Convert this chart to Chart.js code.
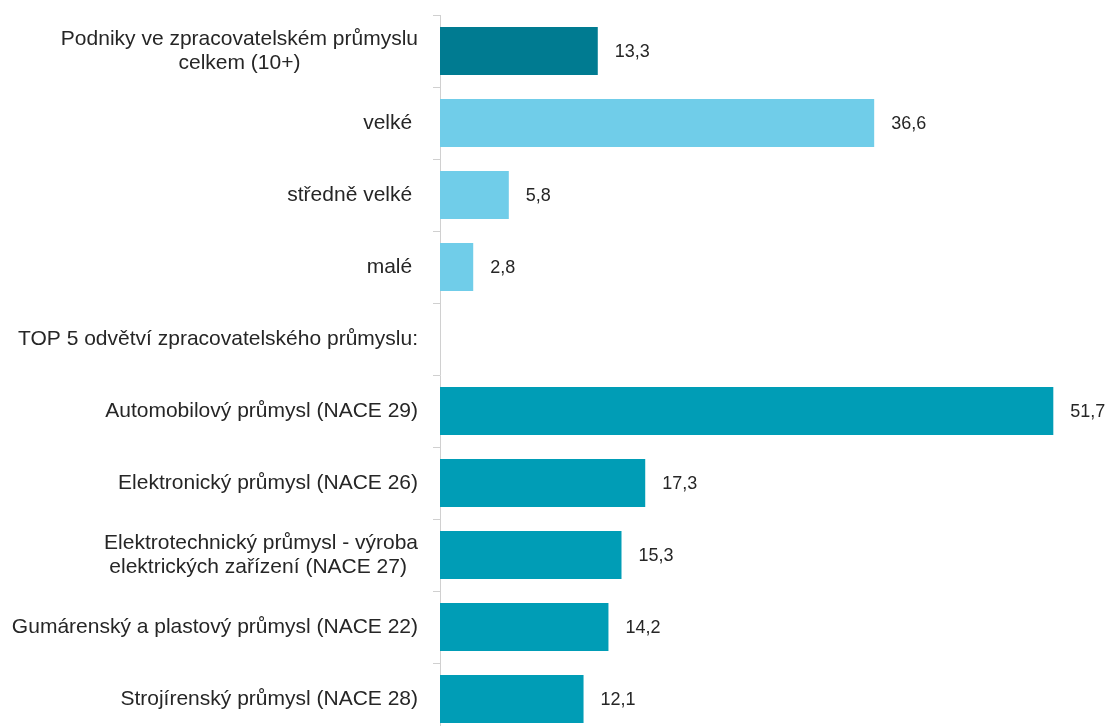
<!DOCTYPE html>
<html>
<head>
<meta charset="utf-8">
<script src="https://cdn.jsdelivr.net/npm/chart.js@4/dist/chart.umd.min.js"></script>
<style>
  html, body { margin: 0; padding: 0; background: #fff; overflow: hidden; }
  #wrap { width: 1115px; height: 740px; position: relative; }
</style>
</head>
<body>
<div id="wrap"><canvas id="chart"></canvas></div>
<script>
// categories (multi-line labels as arrays)
const categories = [
  ["Podniky ve zpracovatelském průmyslu", "celkem (10+)"],
  "velké ",
  "středně velké ",
  "malé ",
  "TOP 5 odvětví zpracovatelského průmyslu:",
  "Automobilový průmysl (NACE 29)",
  "Elektronický průmysl (NACE 26)",
  ["Elektrotechnický průmysl - výroba", "elektrických zařízení (NACE 27) "],
  "Gumárenský a plastový průmysl (NACE 22)",
  "Strojírenský průmysl (NACE 28)"
];
const values = [13.3, 36.6, 5.8, 2.8, null, 51.7, 17.3, 15.3, 14.2, 12.1];

// bar colours per row
const totalColor = "#007b91";
const sizeColor = "#70cde9";
const branchColor = "#009db6";
const barColors = [totalColor, sizeColor, sizeColor, sizeColor, branchColor,
  branchColor, branchColor, branchColor, branchColor, branchColor];

const LABEL_FONT = "21px 'Liberation Sans', Arial, sans-serif";
const VALUE_FONT = "18px 'Liberation Sans', Arial, sans-serif";
const TEXT = "#262626";

// draw y labels: block right-aligned, lines centered within block
const yLabels = {
  id: "yLabels",
  afterDraw(chart) {
    const ctx = chart.ctx;
    const y = chart.scales.y;
    const right = y.right - 22;
    ctx.save();
    ctx.font = LABEL_FONT;
    ctx.fillStyle = TEXT;
    ctx.textBaseline = "middle";
    ctx.textAlign = "center";
    categories.forEach((lab, i) => {
      const lines = Array.isArray(lab) ? lab : [lab];
      const w = Math.max(...lines.map(l => ctx.measureText(l).width));
      const cx = right - w / 2;
      const lh = 24;
      const cy = y.getPixelForTick(i);
      lines.forEach((l, k) => {
        ctx.fillText(l, cx, cy + (k - (lines.length - 1) / 2) * lh);
      });
    });
    ctx.restore();
  }
};

// value labels to the right of bars
const valueLabels = {
  id: "valueLabels",
  afterDatasetsDraw(chart) {
    const ctx = chart.ctx;
    const meta = chart.getDatasetMeta(0);
    ctx.save();
    ctx.font = VALUE_FONT;
    ctx.fillStyle = TEXT;
    ctx.textBaseline = "middle";
    ctx.textAlign = "left";
    meta.data.forEach((bar, i) => {
      if (values[i] == null) return;
      ctx.fillText(values[i].toFixed(1).replace(".", ","), bar.x + 17, bar.y + 1);
    });
    ctx.restore();
  }
};

new Chart(document.getElementById("chart"), {
  type: "bar",
  data: {
    labels: categories,
    datasets: [{
      data: values,
      backgroundColor: barColors,
      borderWidth: 0,
      barPercentage: 0.667,
      categoryPercentage: 1
    }]
  },
  options: {
    indexAxis: "y",
    responsive: true,
    maintainAspectRatio: false,
    animation: false,
    layout: { padding: { top: 15, bottom: 5, left: 0, right: 0 } },
    plugins: { legend: { display: false }, tooltip: { enabled: false } },
    scales: {
      x: { display: false, min: 0, max: 56.9 },
      y: {
        offset: true,
        ticks: { display: false },
        grid: { offset: true, drawOnChartArea: false, drawTicks: true, tickLength: 7, color: "#d0d0d0" },
        border: { display: true, color: "#d0d0d0", width: 1 },
        afterFit(scale) { scale.width = 440; }
      }
    }
  },
  plugins: [yLabels, valueLabels]
});
</script>
</body>
</html>
